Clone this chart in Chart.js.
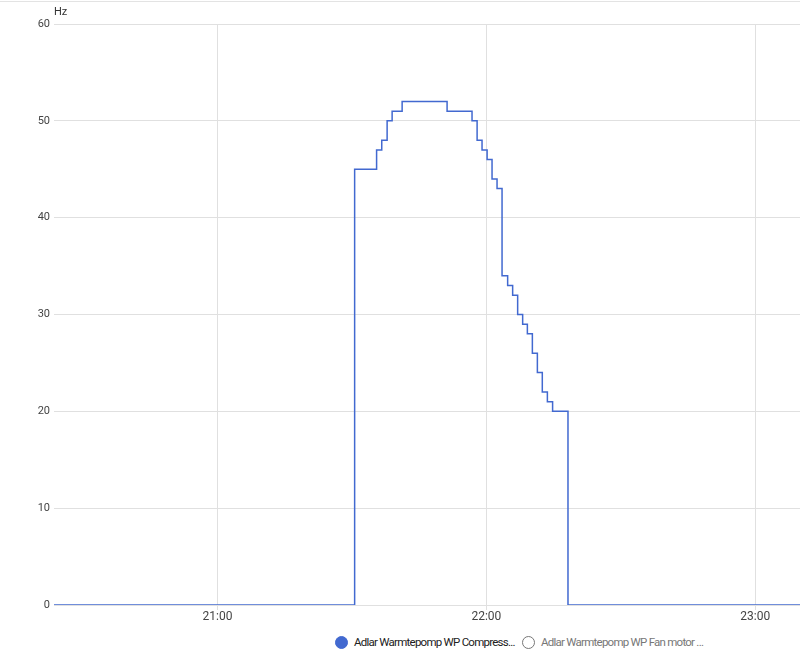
<!DOCTYPE html>
<html>
<head>
<meta charset="utf-8">
<script src="https://cdn.jsdelivr.net/npm/chart.js@4.4.1/dist/chart.umd.min.js"></script>
<style>
  html, body { margin: 0; padding: 0; background: #fff; }
  body { width: 800px; height: 664px; position: relative; overflow: hidden; font-family: Roboto, "Noto Sans", sans-serif; }
  .topline { position: absolute; left: 0; top: 1px; width: 800px; height: 1px; background: #e3e3e3; }
  .wrap { position: absolute; left: 0; top: 0; width: 800px; height: 630px; }
  .unit { position: absolute; left: 54px; top: 5px; font-size: 11px; color: #333; }
  .legend { position: absolute; top: 633px; left: 0; width: 800px; height: 20px; font-size: 11.5px; letter-spacing: -0.75px; }
  .item { position: absolute; top: 0; display: flex; align-items: center; height: 18px; white-space: nowrap; }
  .dot { width: 13px; height: 13px; border-radius: 50%; box-sizing: border-box; margin-right: 6px; flex: none; }
</style>
</head>
<body>
<div class="topline"></div>
<div class="wrap"><canvas id="chart"></canvas></div>
<div class="unit">Hz</div>
<div class="legend" id="legend"></div>
<script>
  // compressor frequency samples (state changes)
  const sampleTimes = [
    "20:23:30", "21:30:36", "21:35:30", "21:36:39", "21:37:51", "21:38:58",
    "21:41:12", "21:51:14", "21:56:48", "21:57:56", "21:59:02", "22:00:10",
    "22:01:16", "22:02:23", "22:03:30", "22:04:45", "22:05:52", "22:06:59",
    "22:08:06", "22:09:09", "22:10:16", "22:11:23", "22:12:29", "22:13:37",
    "22:14:47", "22:18:13", "23:10:00"
  ];
  const compressorHz = [
    0, 45, 47, 48, 50, 51,
    52, 51, 50, 48, 47, 46,
    44, 43, 34, 33, 32, 30,
    29, 28, 26, 24, 22, 21,
    20, 0, 0
  ];
  const xTickTimes = ["21:00", "22:00", "23:00"];
  const yTicks = [0, 10, 20, 30, 40, 50, 60];
  const seriesNames = ["Adlar Warmtepomp WP Compress...", "Adlar Warmtepomp WP Fan motor ..."];

  const toMin = (s) => {
    const p = s.split(":").map(Number);
    return p[0] * 60 + p[1] + (p[2] || 0) / 60;
  };
  const fmt = (m) => {
    const h = Math.floor(m / 60), mm = Math.round(m - h * 60);
    return String(h).padStart(2, "0") + ":" + String(mm).padStart(2, "0");
  };

  const blue = "#4269d0";
  const points = sampleTimes.map((t, i) => ({ x: toMin(t), y: compressorHz[i] }));

  new Chart(document.getElementById("chart"), {
    type: "line",
    data: {
      datasets: [{
        label: seriesNames[0],
        data: points,
        stepped: true,
        borderColor: blue,
        borderWidth: 1.5,
        pointRadius: 0,
        fill: false,
      }],
    },
    options: {
      responsive: true,
      maintainAspectRatio: false,
      animation: false,
      layout: { padding: { top: 24, right: 0, left: 0, bottom: 0 } },
      plugins: { legend: { display: false }, tooltip: { enabled: false } },
      scales: {
        x: {
          type: "linear",
          min: toMin(sampleTimes[0]),
          max: toMin(sampleTimes[sampleTimes.length - 1]),
          afterBuildTicks: (s) => { s.ticks = xTickTimes.map((t) => ({ value: toMin(t) })); },
          afterFit: (s) => { s.height = 25; },
          border: { display: false },
          grid: { color: "#e0e0e0", tickLength: 5, drawTicks: true },
          ticks: {
            color: "#444",
            font: { family: "Roboto", size: 12 },
            padding: 0,
            maxRotation: 0,
            callback: (v) => fmt(v),
          },
        },
        y: {
          min: 0,
          max: 60,
          afterBuildTicks: (s) => { s.ticks = yTicks.map((v) => ({ value: v })); },
          afterFit: (s) => { s.width = 54; },
          border: { display: false },
          grid: { color: "#e0e0e0", drawTicks: false },
          ticks: {
            color: "#444",
            font: { family: "Roboto", size: 11 },
            padding: 4,
          },
        },
      },
    },
  });

  // legend: first series shown, second toggled off
  const legend = document.getElementById("legend");
  const items = [
    { left: 335, fill: blue, stroke: blue, color: "#212121" },
    { left: 522, fill: "#fff", stroke: "#777", color: "#777" },
  ];
  items.forEach((it, i) => {
    const el = document.createElement("div");
    el.className = "item";
    el.style.left = it.left + "px";
    el.innerHTML = '<span class="dot" style="background:' + it.fill + ';border:1.5px solid ' + it.stroke +
      '"></span><span style="color:' + it.color + '">' + seriesNames[i] + "</span>";
    legend.appendChild(el);
  });
</script>
</body>
</html>
